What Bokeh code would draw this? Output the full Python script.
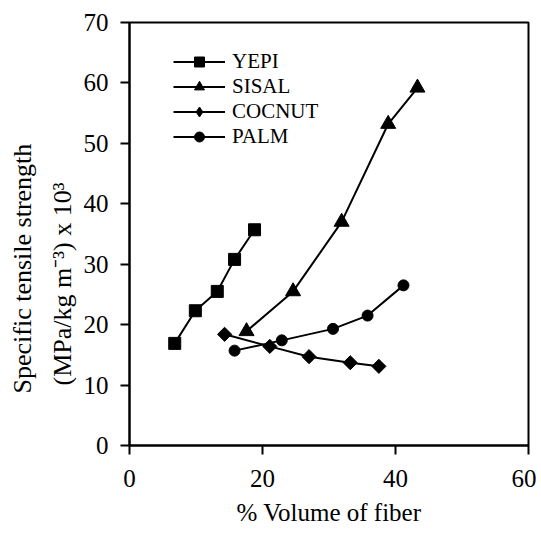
import numpy as np
from bokeh.plotting import figure
from bokeh.models import Legend, LegendItem, Title, FixedTicker
from bokeh.embed import file_html
from bokeh.resources import INLINE

# ---- data ----
yepi_x = [6.8, 9.9, 13.2, 15.8, 18.8]
yepi_y = [16.9, 22.3, 25.5, 30.8, 35.7]

sisal_x = [17.6, 24.6, 31.9, 38.9, 43.3]
sisal_y = [18.9, 25.5, 37.0, 53.2, 59.2]

coco_x = [14.3, 21.1, 27.0, 33.2, 37.5]
coco_y = [18.4, 16.4, 14.7, 13.7, 13.1]

palm_x = [15.8, 22.9, 30.6, 35.8, 41.2]
palm_y = [15.7, 17.4, 19.3, 21.5, 26.5]

x_ticks = [0, 20, 40, 60]
y_ticks = [0, 10, 20, 30, 40, 50, 60, 70]

FONT = "'Liberation Serif', 'Times New Roman', serif"

p = figure(width=536, height=546, x_range=(0, 60), y_range=(0, 70),
           output_backend="svg", toolbar_location=None,
           min_border_left=127, min_border_top=22, min_border_right=8,
           min_border_bottom=101)
p.background_fill_color = "white"
p.border_fill_color = "white"
p.xgrid.visible = False
p.ygrid.visible = False
p.outline_line_color = "black"
p.outline_line_width = 2

for ax in (p.xaxis[0], p.yaxis[0]):
    ax.axis_line_color = "black"
    ax.axis_line_width = 2
    ax.major_tick_line_color = "black"
    ax.major_tick_line_width = 2
    ax.major_tick_in = 0
    ax.major_tick_out = 9
    ax.minor_tick_line_color = None
    ax.major_label_text_font = FONT
    ax.major_label_text_font_style = "normal"
    ax.major_label_text_font_size = "25px"
    ax.major_label_text_color = "black"

p.xaxis.ticker = FixedTicker(ticks=x_ticks)
p.yaxis.ticker = FixedTicker(ticks=y_ticks)
p.xaxis.major_label_standoff = 15
p.yaxis.major_label_standoff = 12

# axis titles
tx = Title(text="% Volume of fiber", align="center",
           text_font=FONT, text_font_size="25px", text_font_style="normal",
           text_color="black", standoff=14)
p.add_layout(tx, "below")

t2 = Title(text="(MPa/kg m\u207b\u00b3) x 10\u00b3", align="left", offset=60,
           text_font=FONT, text_font_size="26px", text_font_style="normal",
           text_color="black", standoff=8)
t1 = Title(text="Specific tensile strength", align="left", offset=52,
           text_font=FONT, text_font_size="26px", text_font_style="normal",
           text_color="black", standoff=10)
p.add_layout(t2, "left")
p.add_layout(t1, "left")

series = [
    ("YEPI", yepi_x, yepi_y, "square", 12, 0.0, "square"),
    ("SISAL", sisal_x, sisal_y, "triangle", 15, 0.0, "triangle"),
    ("COCNUT", coco_x, coco_y, "square", 10, np.pi / 4, "diamond"),
    ("PALM", palm_x, palm_y, "circle", 11, 0.0, "circle"),
]

items = []
for name, xs, ys, marker, size, ang, leg_marker in series:
    l = p.line(xs, ys, line_color="black", line_width=2)
    s = p.scatter(xs, ys, marker=marker, size=size, angle=ang,
                  fill_color="black", line_color="black")
    if leg_marker != marker:
        # legend-only proxy (size 0 -> nothing drawn in the plot area)
        s = p.scatter(xs, ys, marker=leg_marker, size=0,
                      fill_color="black", line_color="black")
    items.append(LegendItem(label=name, renderers=[l, s]))

legend = Legend(items=items, location=(44, 296), orientation="vertical",
                glyph_width=52, glyph_height=25, label_height=25,
                label_standoff=7, spacing=0, padding=0, margin=0,
                border_line_color=None, background_fill_alpha=0,
                label_text_font=FONT, label_text_font_size="21px",
                label_text_font_style="normal",
                label_text_color="black")
p.add_layout(legend, "center")

open("out.html", "w").write(file_html(p, INLINE))
